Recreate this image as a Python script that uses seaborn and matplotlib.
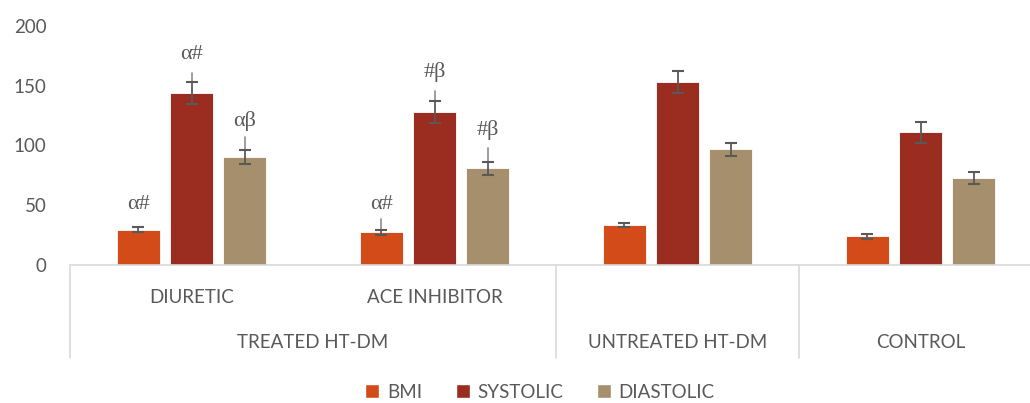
import pandas as pd
import matplotlib
matplotlib.use('Agg')
import matplotlib.pyplot as plt
import matplotlib.transforms as mtransforms
from matplotlib.patches import Patch
from matplotlib.container import BarContainer
import seaborn as sns

# Dados
grupos = ['DIURETIC', 'ACE INHIBITOR', 'UNTREATED HT-DM', 'CONTROL']
bmi = [29.5, 27.5, 33.5, 24]
bmi_err = [2, 2, 2, 2]
sistolica = [144, 128, 153, 111]
sistolica_err = [9, 9, 9, 9]
diastolica = [90.5, 81, 97, 73]
diastolica_err = [6, 5.5, 5.5, 5]
series = ['BMI', 'SYSTOLIC', 'DIASTOLIC']
cores = ['#D34B19', '#9B2D20', '#A58F6C']

# anotacoes: (grupo, serie, texto, y do texto, leader inicio, leader fim)
anotacoes = [
    (0, 0, 'α#', 51, None, None),
    (0, 1, 'α#', 176, 153, 161),
    (0, 2, 'αβ', 120.5, 97, 107),
    (1, 0, 'α#', 51, 29.5, 38.5),
    (1, 1, '#β', 161.5, 137, 146),
    (1, 2, '#β', 113, 87, 98),
]

df = pd.DataFrame({
    'Grupo': grupos * 3,
    'Serie': [s for s in series for _ in grupos],
    'Valor': bmi + sistolica + diastolica,
})
erros = [bmi_err, sistolica_err, diastolica_err]

sns.set_style('white')
plt.rcParams['font.family'] = ['Lato', 'DejaVu Sans']
cinza = '#595959'

fig = plt.figure(figsize=(10.3, 4.03), dpi=100)
ax = fig.add_axes([70 / 1030, 138 / 403, 972 / 1030, 239 / 403])

sns.barplot(data=df, x='Grupo', y='Valor', hue='Serie', order=grupos,
            hue_order=series, palette=cores, saturation=1, width=0.655,
            gap=0.19, edgecolor='white', linewidth=0.6, errorbar=None,
            ax=ax, legend=False)

# barras de erro
barras = [c for c in ax.containers if isinstance(c, BarContainer)]
centros = []
for i, cont in enumerate(barras):
    xs = [b.get_x() + b.get_width() / 2 for b in cont]
    ys = [b.get_height() for b in cont]
    centros.append(xs)
    ax.errorbar(xs, ys, yerr=erros[i], fmt='none', ecolor=cinza,
                elinewidth=1.3, capsize=4.5, capthick=1.5, zorder=5)

# anotacoes estatisticas
for g, s, txt, yt, l0, l1 in anotacoes:
    x = centros[s][g]
    ax.text(x, yt, txt, ha='center', va='center', fontsize=16,
            family=['Liberation Serif', 'DejaVu Serif'], color=cinza)
    if l0 is not None:
        ax.plot([x, x], [l0, l1], color='#8C8C8C', lw=1.2, zorder=4)

ax.set_ylim(0, 200)
ax.set_xlim(-0.5, 3.5)
ax.set_yticks([0, 50, 100, 150, 200])
ax.tick_params(axis='y', length=0, pad=17, labelsize=13.5, labelcolor=cinza)
ax.set_xticks([])
ax.set_xlabel('')
ax.set_ylabel('')
for lado in ['top', 'right', 'left']:
    ax.spines[lado].set_visible(False)
ax.spines['bottom'].set_color('#D9D9D9')
ax.spines['bottom'].set_linewidth(1.2)

# eixo x hierarquico
trans = mtransforms.blended_transform_factory(ax.transData, ax.transAxes)
for xs in [-0.5, 1.5, 2.5]:
    ax.plot([xs, xs], [0, -0.389], transform=trans, color='#D9D9D9',
            lw=1.2, clip_on=False)
for i, g in enumerate(grupos[:2]):
    ax.text(i, -0.134, g, transform=trans, ha='center', va='center',
            fontsize=13.5, color=cinza)
ax.text(0.5, -0.326, 'TREATED HT-DM', transform=trans, ha='center',
        va='center', fontsize=13.5, color=cinza)
ax.text(2, -0.326, 'UNTREATED HT-DM', transform=trans, ha='center',
        va='center', fontsize=13.5, color=cinza)
ax.text(3, -0.326, 'CONTROL', transform=trans, ha='center',
        va='center', fontsize=13.5, color=cinza)

# legenda
handles = [Patch(facecolor=c, label=s) for c, s in zip(cores, series)]
leg = fig.legend(handles=handles, loc='center', ncol=3,
                 bbox_to_anchor=(540 / 1030, 1 - 392 / 403), frameon=False,
                 fontsize=13.5, handlelength=0.75, handleheight=0.75,
                 handletextpad=0.4, columnspacing=1.8)
for t in leg.get_texts():
    t.set_color(cinza)

fig.savefig('out.png', dpi=100)
